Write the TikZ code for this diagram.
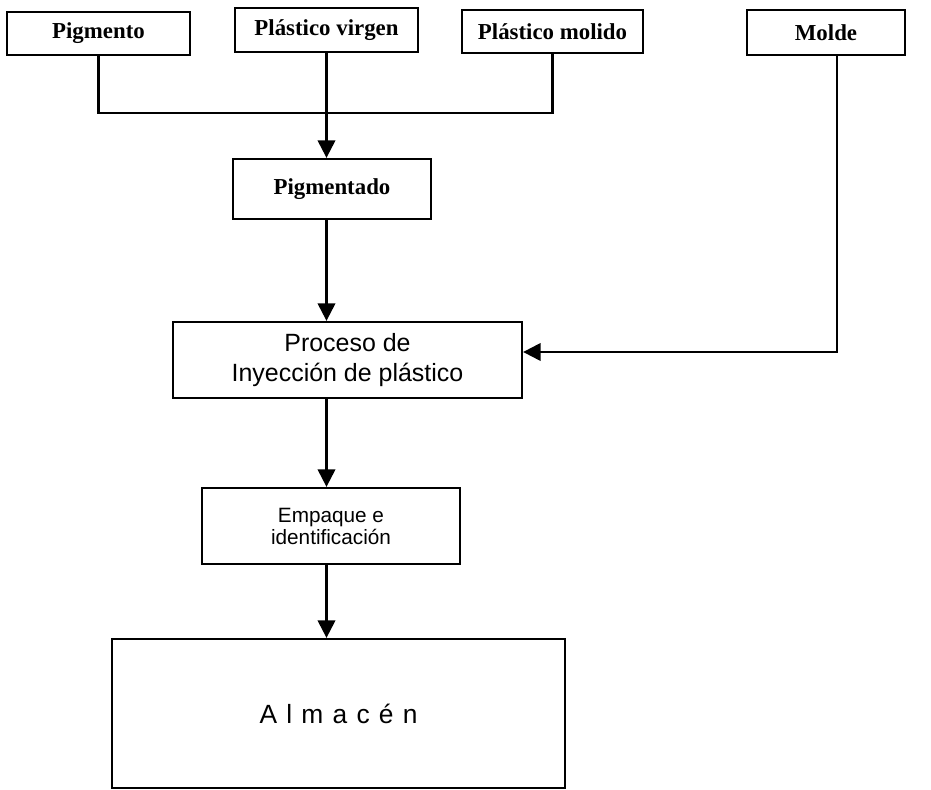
\documentclass[tikz,border=0pt]{standalone}
\usepackage{fontspec}
\setmainfont{Liberation Serif}
\setsansfont{Liberation Sans}
\newfontfamily\spacedsans[LetterSpace=35]{Liberation Sans}
\usetikzlibrary{arrows.meta}
\begin{document}
\begin{tikzpicture}[
  line width=1.3pt,
  topbox/.style={draw, rectangle, inner sep=0pt, font=\fontsize{13}{15}\selectfont\bfseries},
  sansbox/.style={draw, rectangle, inner sep=0pt, align=center, font=\sffamily},
  arr/.style={-{Triangle[length=10pt,width=10pt]}}
]
\useasboundingbox (0,0) rectangle (18.62,-15.8);
\node[topbox, minimum width=3.66cm, minimum height=0.86cm] (pig) at (1.97,-0.67) {Pigmento};
\node[topbox, minimum width=3.66cm, minimum height=0.88cm] (virg) at (6.53,-0.60) {Plástico virgen};
\node[topbox, minimum width=3.62cm, minimum height=0.86cm] (mol) at (11.05,-0.63) {Plástico molido};
\node[topbox, minimum width=3.16cm, minimum height=0.90cm] (molde) at (16.52,-0.65) {Molde};
\node[topbox, minimum width=3.96cm, minimum height=1.20cm] (pgt) at (6.64,-3.78) {Pigmentado};
\node[sansbox, minimum width=6.98cm, minimum height=1.52cm, font=\sffamily\fontsize{14.2}{17}\selectfont] (proc) at (6.95,-7.20) {Proceso de\\Inyección de plástico};
\node[sansbox, minimum width=5.16cm, minimum height=1.52cm, font=\sffamily\fontsize{11.8}{12.5}\selectfont] (emp) at (6.62,-10.52) {Empaque e\\identificación};
\node[draw, rectangle, inner sep=0pt, minimum width=9.06cm, minimum height=2.98cm, font=\spacedsans\fontsize{15}{18}\selectfont] (alm) at (6.77,-14.27) {Almacén};

\coordinate (j) at (6.53,-2.26);
\coordinate (m1) at (16.74,-7.04);
\draw (pig.south) |- (j) -| (mol.south);
\draw[arr] (virg.south) -- (virg.south |- pgt.north);
\draw[arr] (virg.south |- pgt.south) -- (virg.south |- proc.north);
\draw[arr] (virg.south |- proc.south) -- (virg.south |- emp.north);
\draw[arr] (virg.south |- emp.south) -- (virg.south |- alm.north);
\draw[arr] (m1 |- molde.south) -- (m1) -- (proc.east |- m1);
\end{tikzpicture}
\end{document}
